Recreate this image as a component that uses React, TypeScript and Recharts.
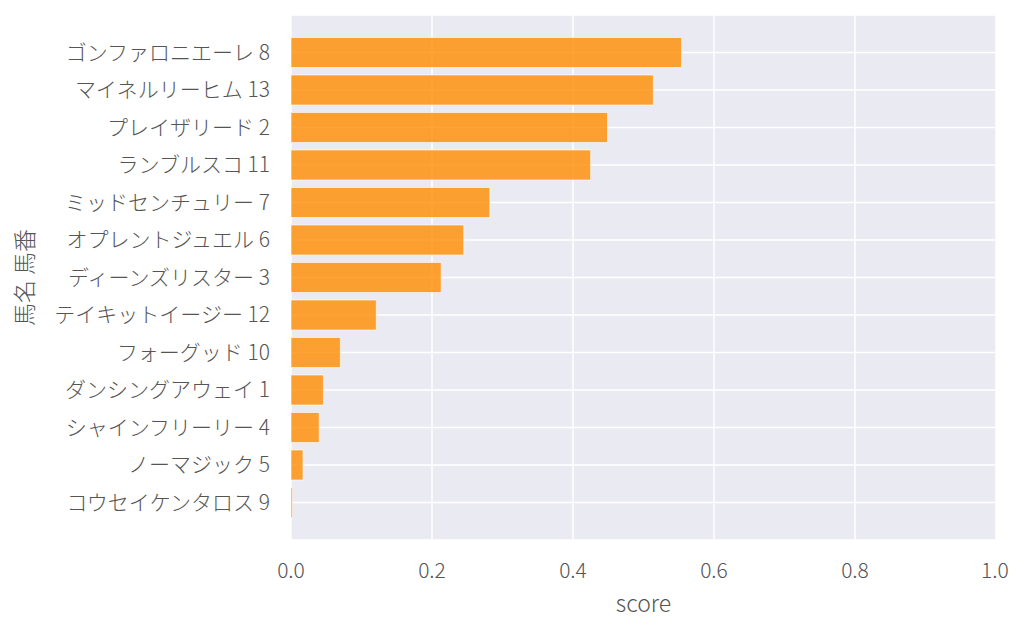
import { Bar, BarChart, CartesianGrid, XAxis, YAxis } from 'recharts';

const horseNames = [
    'ゴンファロニエーレ',
    'マイネルリーヒム',
    'プレイザリード',
    'ランブルスコ',
    'ミッドセンチュリー',
    'オプレントジュエル',
    'ディーンズリスター',
    'テイキットイージー',
    'フォーグッド',
    'ダンシングアウェイ',
    'シャインフリーリー',
    'ノーマジック',
    'コウセイケンタロス',
];
const horseNumbers = [8, 13, 2, 11, 7, 6, 3, 12, 10, 1, 4, 5, 9];
const scores = [
    0.554, 0.514, 0.449, 0.425, 0.282, 0.245, 0.213, 0.121, 0.07, 0.046,
    0.04, 0.017, 0.002,
];
const scoreTicks = [0, 0.2, 0.4, 0.6, 0.8, 1.0];

const FONT = '"Noto Sans CJK JP", "Noto Sans", sans-serif';
const TEXT = '#555555';

export default function App() {
    const data = horseNames.map((name, i) => ({
        label: `${name} ${horseNumbers[i]}`,
        score: scores[i],
    }));

    return (
        <div style={{ width: 1000, height: 615, fontFamily: FONT }}>
            <BarChart
                width={1000}
                height={615}
                data={data}
                layout="vertical"
                margin={{ top: 7, right: 12, bottom: 0, left: 0 }}
                barCategoryGap="10%"
            >
                <CartesianGrid
                    fill="#eaeaf2"
                    stroke="#ffffff"
                    strokeWidth={1.5}
                />
                <XAxis
                    type="number"
                    dataKey="score"
                    domain={[0, 1]}
                    ticks={scoreTicks}
                    tickFormatter={(v) => Number(v).toFixed(1)}
                    axisLine={false}
                    tickLine={false}
                    tickSize={0}
                    tickMargin={23}
                    height={83}
                    tick={{ fontSize: 21, fill: TEXT, fontWeight: 300, fontFamily: FONT }}
                    label={{
                        value: 'score',
                        position: 'insideBottom',
                        offset: 11,
                        fontSize: 23,
                        fill: TEXT,
                        fontWeight: 300,
                        fontFamily: FONT,
                    }}
                />
                <YAxis
                    type="category"
                    dataKey="label"
                    width={283}
                    axisLine={false}
                    tickLine={false}
                    tickSize={0}
                    tickMargin={21}
                    interval={0}
                    padding={{ top: 18.75, bottom: 18.75 }}
                    tick={{ fontSize: 21, fill: TEXT, fontWeight: 300, fontFamily: FONT }}
                    label={{
                        value: '馬名 馬番',
                        angle: -90,
                        position: 'insideLeft',
                        offset: 17,
                        fontSize: 23,
                        fill: TEXT,
                        fontWeight: 300,
                        fontFamily: FONT,
                        style: { textAnchor: 'middle' },
                    }}
                />
                <Bar
                    dataKey="score"
                    fill="#ff8c00"
                    fillOpacity={0.8}
                    stroke="#ffffff"
                    strokeOpacity={0.6}
                    strokeWidth={1}
                    isAnimationActive={false}
                />
            </BarChart>
        </div>
    );
}
